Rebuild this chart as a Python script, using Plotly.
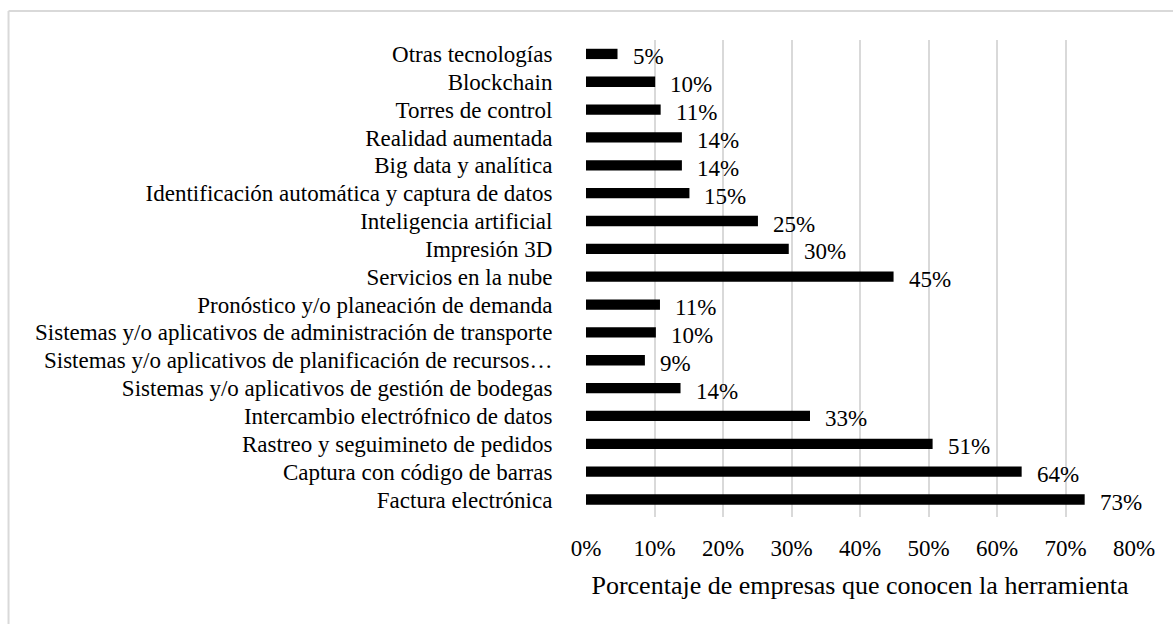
import plotly.graph_objects as go

categories = [
    "Factura electrónica",
    "Captura con código de barras",
    "Rastreo y seguimineto de pedidos",
    "Intercambio electrófnico de datos",
    "Sistemas y/o aplicativos de gestión de bodegas",
    "Sistemas y/o aplicativos de planificación de recursos…",
    "Sistemas y/o aplicativos de administración de transporte",
    "Pronóstico y/o planeación de demanda",
    "Servicios en la nube",
    "Impresión 3D",
    "Inteligencia artificial",
    "Identificación automática y captura de datos",
    "Big data y analítica",
    "Realidad aumentada",
    "Torres de control",
    "Blockchain",
    "Otras tecnologías",
]
values = [72.8, 63.6, 50.6, 32.7, 13.8, 8.6, 10.2, 10.8, 44.9, 29.6, 25.1, 15.1, 14.0, 14.0, 10.9, 10.1, 4.6]
x_ticks = [0, 10, 20, 30, 40, 50, 60, 70, 80]
x_title = "Porcentaje de empresas que conocen la herramienta"

FONT = "Liberation Serif, Times New Roman, serif"
FS = 23

W, H = 1173, 624
ML, MR, MT, MB = 586, 38.5, 40, 107
pw = W - ML - MR
ph = H - MT - MB

fig = go.Figure()
fig.add_trace(go.Bar(
    y=categories, x=values, orientation="h",
    marker=dict(color="#000000", line=dict(width=0)),
    width=0.37, hoverinfo="skip",
))

for c, v in zip(categories, values):
    fig.add_annotation(x=v, y=c, xref="x", yref="y", text=f"{v:.0f}%",
                       showarrow=False, xanchor="left", yanchor="middle",
                       xshift=13, yshift=-3,
                       font=dict(family=FONT, size=FS, color="#000000"))

def px2paper_x(px):
    return (px - ML) / pw

def py2paper_y(py):
    return (H - MB - py) / ph

fig.add_shape(type="line", xref="paper", yref="paper",
              x0=px2paper_x(8), x1=px2paper_x(1200), y0=py2paper_y(11), y1=py2paper_y(11),
              line=dict(color="#d9d9d9", width=2))
fig.add_shape(type="line", xref="paper", yref="paper",
              x0=px2paper_x(8), x1=px2paper_x(8), y0=py2paper_y(11), y1=py2paper_y(650),
              line=dict(color="#d9d9d9", width=2))

fig.update_layout(
    width=W, height=H,
    margin=dict(l=ML, r=MR, t=MT, b=MB, pad=0),
    paper_bgcolor="white", plot_bgcolor="white",
    showlegend=False,
    font=dict(family=FONT, size=FS, color="#000000"),
    bargap=0.63,
)
fig.update_xaxes(
    range=[0, 80], tickmode="array", tickvals=x_ticks, ticktext=[f"{t}%" for t in x_ticks],
    showgrid=True, gridcolor="#d9d9d9", gridwidth=1.5,
    zeroline=False, showline=False,
    ticks="outside", ticklen=10, tickcolor="rgba(0,0,0,0)",
    tickfont=dict(family=FONT, size=FS, color="#000000"),
    title=dict(text=x_title, font=dict(family=FONT, size=26, color="#000000"), standoff=16),
    fixedrange=True,
)
fig.update_yaxes(
    categoryorder="array", categoryarray=categories,
    tickmode="array", tickvals=categories, ticktext=categories,
    showgrid=False, zeroline=False, showline=False,
    ticks="outside", ticklen=28, tickcolor="rgba(0,0,0,0)",
    tickfont=dict(family=FONT, size=FS, color="#000000"),
    fixedrange=True,
)

fig.write_html("out.html", config={"displayModeBar": False},
               post_script="document.body.style.margin='0';")
